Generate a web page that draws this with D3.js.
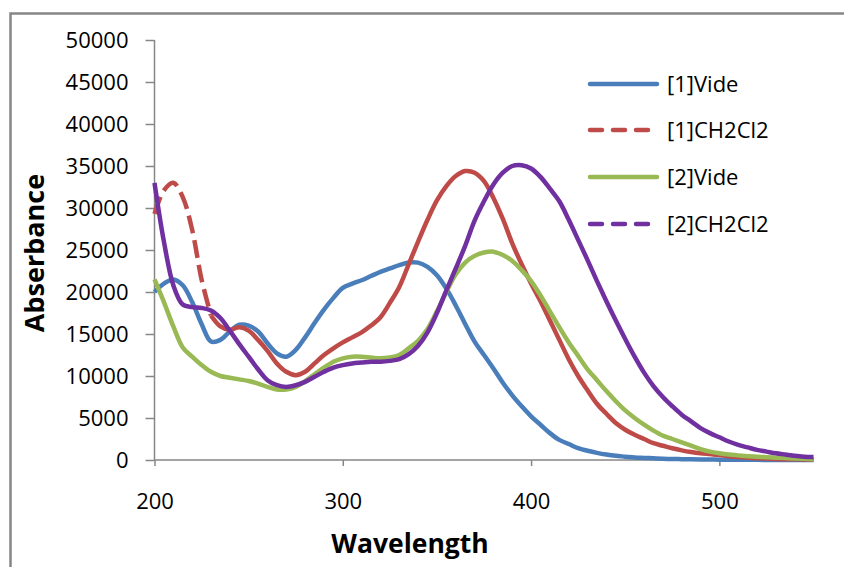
<!DOCTYPE html>
<html>
<head>
<meta charset="utf-8">
<script src="https://cdn.jsdelivr.net/npm/d3@7"></script>
<style>
  body { margin: 0; background: #fff; }
  svg text { font-family: "Open Sans", "Noto Sans", sans-serif; fill: #000; }
</style>
</head>
<body>
<svg id="chart" width="844" height="567"></svg>
<script>
// wavelength grid (nm)
const wavelengths = [200, 205, 210, 215, 220, 225, 230, 235, 240, 245, 250, 255, 260, 265, 270, 275, 280, 285, 290, 295,
  300, 305, 310, 315, 320, 325, 330, 335, 340, 345, 350, 355, 360, 365, 370, 375, 380, 385, 390, 395,
  400, 405, 410, 415, 420, 425, 430, 435, 440, 445, 450, 455, 460, 465, 470, 475, 480, 485, 490, 495,
  500, 505, 510, 515, 520, 525, 530, 535, 540, 545, 550];

const vide1 = [20000, 21000, 21500, 20800, 18800, 16200, 14100, 14300, 15300, 16100, 16000, 15300, 13900, 12700, 12300, 13100, 14600, 16300, 17900, 19300,
  20500, 21000, 21400, 21900, 22400, 22800, 23200, 23500, 23500, 23000, 22000, 20400, 18400, 16200, 14100, 12500, 10900, 9200, 7700, 6400,
  5200, 4200, 3200, 2400, 1900, 1400, 1100, 850, 650, 500, 400, 300, 250, 200, 150, 120, 100, 80, 60, 50,
  40, 30, 25, 20, 15, 10, 10, 5, 5, 0, 0];

const ch2cl2_1 = [29300, 32100, 33000, 31300, 27400, 21500, 17200, 15900, 15500, 15800, 15400, 14300, 13000, 11500, 10500, 10100, 10500, 11500, 12500, 13300,
  14000, 14600, 15200, 16000, 17000, 18700, 20600, 23300, 26000, 28600, 30900, 32600, 33800, 34400, 34200, 33200, 31200, 28700, 25800, 23300,
  21000, 18900, 16600, 14300, 12000, 10000, 8300, 6700, 5500, 4400, 3600, 3000, 2500, 2000, 1700, 1400, 1150, 950, 800, 700,
  600, 450, 350, 280, 220, 170, 130, 100, 80, 60, 50];

const vide2 = [21500, 18800, 15900, 13400, 12300, 11300, 10500, 10000, 9800, 9600, 9400, 9100, 8700, 8400, 8400, 8700, 9400, 10200, 11000, 11700,
  12100, 12300, 12300, 12200, 12100, 12200, 12500, 13300, 14200, 15600, 17700, 20000, 22100, 23500, 24300, 24700, 24800, 24400, 23700, 22600,
  21300, 19600, 17700, 15800, 14000, 12400, 10800, 9500, 8200, 7000, 5900, 5000, 4200, 3500, 2900, 2500, 2100, 1700, 1300, 1000,
  800, 650, 550, 450, 400, 330, 280, 230, 180, 140, 100];

const ch2cl2_2 = [33000, 26000, 20800, 18500, 18200, 18100, 17800, 16900, 15400, 13800, 12300, 10800, 9500, 8900, 8700, 8900, 9300, 9900, 10500, 11000,
  11300, 11500, 11600, 11700, 11700, 11800, 12000, 12600, 13600, 15200, 17500, 20200, 22800, 25500, 28500, 30800, 32800, 34200, 35000, 35100,
  34700, 33700, 32300, 30800, 28600, 26200, 23800, 21300, 18900, 16600, 14400, 12300, 10400, 8800, 7500, 6400, 5400, 4600, 3800, 3200,
  2700, 2200, 1800, 1500, 1200, 1000, 800, 650, 500, 400, 350];

const seriesNames = ['[1]Vide', '[1]CH2Cl2', '[2]Vide', '[2]CH2Cl2'];
const seriesValues = [vide1, ch2cl2_1, vide2, ch2cl2_2];
const seriesColors = ['#4A7EBB', '#BE4B48', '#98B954', '#7030A0'];
const seriesDashed = [false, true, false, true];

const xTicks = [200, 300, 400, 500];
const yTicks = [0, 5000, 10000, 15000, 20000, 25000, 30000, 35000, 40000, 45000, 50000];

const svg = d3.select('#chart');
const axisColor = '#868686';

// chart frame
svg.append('rect')
  .attr('x', 10.5).attr('y', 13.5)
  .attr('width', 860).attr('height', 600)
  .attr('fill', 'none')
  .attr('stroke', axisColor)
  .attr('stroke-width', 2.5);

const x = d3.scaleLinear().domain([200, 550]).range([154.5, 813.5]);
const y = d3.scaleLinear().domain([0, 50000]).range([460, 40]);

// axes
const yAxis = svg.append('g').attr('transform', 'translate(154.5,0)')
  .call(d3.axisLeft(y).tickValues(yTicks).tickSize(9).tickPadding(17).tickFormat(d3.format('d')));
const xAxis = svg.append('g').attr('transform', 'translate(0,460)')
  .call(d3.axisBottom(x).tickValues(xTicks).tickSize(6).tickPadding(27).tickFormat(d3.format('d')));

[yAxis, xAxis].forEach(function (ax) {
  ax.select('.domain').attr('stroke', axisColor).attr('stroke-width', 1.5);
  ax.selectAll('.tick line').attr('stroke', axisColor).attr('stroke-width', 1.5);
  ax.selectAll('.tick text').attr('font-size', 22).attr('font-family', '"Open Sans", sans-serif').attr('fill', '#000');
});
xAxis.select('.domain').attr('d', 'M154.5,0H813.5');
yAxis.select('.domain').attr('d', 'M0,460V40');

// axis titles
svg.append('text')
  .attr('x', 410).attr('y', 553)
  .attr('text-anchor', 'middle')
  .attr('font-size', 26.5).attr('font-weight', 'bold')
  .text('Wavelength');

svg.append('text')
  .attr('transform', 'translate(44,253) rotate(-90)')
  .attr('text-anchor', 'middle')
  .attr('font-size', 27).attr('font-weight', 'bold')
  .text('Abserbance');

// series
const line = d3.line()
  .x(function (d) { return x(d.nm); })
  .y(function (d) { return y(d.v); })
  .curve(d3.curveCatmullRom.alpha(0.5));

const plot = svg.append('g').attr('class', 'series');
// the red spectrum shows its dash pattern only on the first stretch
const dashEnd = 230;

seriesValues.forEach(function (vals, i) {
  const pts = wavelengths.map(function (nm, k) { return { nm: nm, v: vals[k] }; });
  const common = function (p) {
    return p.attr('fill', 'none')
      .attr('stroke', seriesColors[i])
      .attr('stroke-width', 4.5)
      .attr('stroke-linejoin', 'round');
  };
  if (i === 1) {
    plot.append('path').datum(pts.filter(function (d) { return d.nm <= dashEnd; }))
      .call(common).attr('stroke-dasharray', '18,7').attr('d', line);
    plot.append('path').datum(pts.filter(function (d) { return d.nm >= dashEnd; }))
      .call(common).attr('d', line);
  } else {
    plot.append('path').datum(pts).call(common).attr('d', line);
  }
});

// legend
const legend = svg.append('g').attr('class', 'legend');
const legendRows = [84, 130, 177, 224];
seriesNames.forEach(function (name, i) {
  const ly = legendRows[i];
  legend.append('line')
    .attr('x1', 590).attr('x2', 657)
    .attr('y1', ly).attr('y2', ly)
    .attr('stroke', seriesColors[i])
    .attr('stroke-width', 4.5)
    .attr('stroke-linecap', 'round')
    .attr('stroke-dasharray', seriesDashed[i] ? '12,11' : null);
  legend.append('text')
    .attr('x', 667).attr('y', ly)
    .attr('dy', '0.35em')
    .attr('font-size', 22)
    .text(name);
});
</script>
</body>
</html>
